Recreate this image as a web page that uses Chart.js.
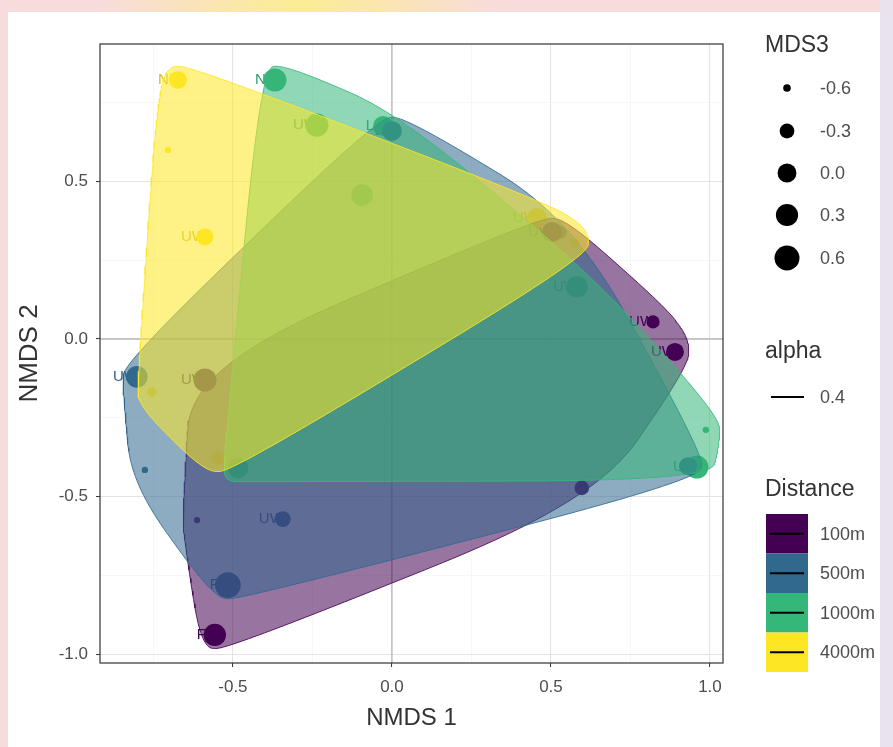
<!DOCTYPE html>
<html>
<head>
<meta charset="utf-8">
<script src="https://cdn.jsdelivr.net/npm/chart.js@4.4.1/dist/chart.umd.min.js"></script>
<style>
  html, body { margin: 0; padding: 0; background: #fff; }
  canvas { display: block; }
</style>
</head>
<body>
<canvas id="nmds" width="893" height="747"></canvas>
<script>
// Distance classes and their viridis colours
const distances = ['100m', '500m', '1000m', '4000m'];
const colours = ['#440154', '#31688E', '#35B779', '#FDE725'];
const labelColours = ['#440154', '#2c5c80', '#2a9d68', '#d6bd14'];

// NMDS site scores, one set of arrays per distance class
const nmds1_100m = [-0.588, 0.503, 0.821, 0.890, 0.597, -0.613, -0.557];
const nmds2_100m = [-0.130, 0.339, 0.054, -0.041, -0.472, -0.574, -0.938];
const mds3_100m  = [0.00, -0.20, -0.50, -0.30, -0.45, -0.64, -0.05];
const site_100m  = ['UW', 'UW', 'UW', 'UW', '', '', 'FE'];

const nmds1_500m = [-0.802, -0.777, -0.516, -0.343, 0.000, 0.528, 0.931];
const nmds2_500m = [-0.120, -0.415, -0.780, -0.571, 0.659, 0.339, -0.403];
const mds3_500m  = [-0.10, -0.64, 0.20, -0.40, -0.20, -0.50, -0.30];
const site_500m  = ['UW', '', 'FE', 'UW', 'LE', '', ''];

const nmds1_1000m = [-0.368, -0.236, -0.094, -0.028, 0.582, 0.987, 0.959, -0.484];
const nmds2_1000m = [0.821, 0.678, 0.456, 0.675, 0.165, -0.288, -0.406, -0.409];
const mds3_1000m  = [0.00, 0.00, -0.10, -0.20, -0.10, -0.64, 0.00, -0.15];
const site_1000m  = ['NE', 'UW', '', 'LE', 'UW', '', 'UW', ''];

const nmds1_4000m = [-0.673, -0.704, -0.588, 0.456, 0.575, -0.755, -0.547];
const nmds2_4000m = [0.821, 0.599, 0.323, 0.384, 0.304, -0.168, -0.377];
const mds3_4000m  = [-0.30, -0.64, -0.35, -0.20, -0.60, -0.60, -0.50];
const site_4000m  = ['NE', '', 'UW', 'UW', '', '', ''];

// Axis ticks
const xMajor = [-0.5, 0.0, 0.5, 1.0];
const xMinor = [-0.75, -0.25, 0.25, 0.75];
const yMajor = [-1.0, -0.5, 0.0, 0.5];
const yMinor = [-0.75, -0.25, 0.25, 0.75];
const X_RANGE = [-0.918, 1.041];
const Y_RANGE = [-1.027, 0.935];

// Size legend breaks and the alpha key
const sizeBreaks = [-0.6, -0.3, 0.0, 0.3, 0.6];
const alphaKey = ['0.4'];

const groups = [
  { x: nmds1_100m, y: nmds2_100m, s: mds3_100m, lab: site_100m },
  { x: nmds1_500m, y: nmds2_500m, s: mds3_500m, lab: site_500m },
  { x: nmds1_1000m, y: nmds2_1000m, s: mds3_1000m, lab: site_1000m },
  { x: nmds1_4000m, y: nmds2_4000m, s: mds3_4000m, lab: site_4000m }
];

// area-type size scale for MDS3
const S_MIN = -0.65, S_MAX = 0.65;
function radiusFor(v) {
  const f = Math.max(0, Math.min(1, (v - S_MIN) / (S_MAX - S_MIN)));
  return 0.5 * (4 + 27 * Math.sqrt(f));
}

function rgba(hex, a) {
  const n = parseInt(hex.slice(1), 16);
  return `rgba(${(n >> 16) & 255},${(n >> 8) & 255},${n & 255},${a})`;
}

// convex hull (monotone chain)
function convexHull(pts) {
  const p = pts.slice().sort((a, b) => a.x - b.x || a.y - b.y);
  const cross = (o, a, b) => (a.x - o.x) * (b.y - o.y) - (a.y - o.y) * (b.x - o.x);
  const lower = [], upper = [];
  for (const q of p) {
    while (lower.length >= 2 && cross(lower[lower.length - 2], lower[lower.length - 1], q) <= 0) lower.pop();
    lower.push(q);
  }
  for (let i = p.length - 1; i >= 0; i--) {
    const q = p[i];
    while (upper.length >= 2 && cross(upper[upper.length - 2], upper[upper.length - 1], q) <= 0) upper.pop();
    upper.push(q);
  }
  upper.pop(); lower.pop();
  return lower.concat(upper);
}

// closed X-spline (Blanc & Schlick), positive shape
function fBlend(num, den) {
  const p = 2 * den * den, u = num / den, u2 = u * u;
  return u * u2 * (10 - p + (2 * p - 15) * u + (6 - p) * u2);
}
function xsplineClosed(ctrl, s, steps) {
  const n = ctrl.length, out = [];
  for (let k = 0; k < n; k++) {
    const p0 = ctrl[(k - 1 + n) % n], p1 = ctrl[k], p2 = ctrl[(k + 1) % n], p3 = ctrl[(k + 2) % n];
    for (let i = 0; i < steps; i++) {
      const t = i / steps;
      const A0 = t < s ? fBlend(t - s, -1 - s) : 0;
      const A1 = fBlend(t - 1 - s, -1 - s);
      const A2 = fBlend(t + s, 1 + s);
      const A3 = t > 1 - s ? fBlend(t - 1 + s, 1 + s) : 0;
      const w = A0 + A1 + A2 + A3;
      out.push({
        x: (A0 * p0.x + A1 * p1.x + A2 * p2.x + A3 * p3.x) / w,
        y: (A0 * p0.y + A1 * p1.y + A2 * p2.y + A3 * p3.y) / w
      });
    }
  }
  out.push({ x: out[0].x, y: out[0].y });
  return out;
}

// encircling outline: box-expanded hull smoothed with an X-spline
const EXPAND = 0.022;
function encircle(g) {
  const ex = EXPAND * (X_RANGE[1] - X_RANGE[0]);
  const ey = EXPAND * (Y_RANGE[1] - Y_RANGE[0]);
  const pts = [];
  g.x.forEach((x, i) => {
    const y = g.y[i];
    pts.push({ x: x - ex, y: y - ey }, { x: x + ex, y: y - ey },
             { x: x + ex, y: y + ey }, { x: x - ex, y: y + ey });
  });
  return xsplineClosed(convexHull(pts), 0.5, 24);
}

const datasets = [];
groups.forEach((g, gi) => {
  datasets.push({
    label: distances[gi] + ' hull',
    data: encircle(g),
    showLine: true,
    fill: 'shape',
    tension: 0,
    pointRadius: 0,
    pointHoverRadius: 0,
    borderWidth: 1,
    borderColor: rgba(colours[gi], 0.85),
    backgroundColor: rgba(colours[gi], 0.55),
    order: 3 - gi
  });
});
groups.forEach((g, gi) => {
  datasets.push({
    label: distances[gi],
    data: g.x.map((x, i) => ({ x, y: g.y[i] })),
    pointRadius: g.s.map(radiusFor),
    pointHoverRadius: g.s.map(radiusFor),
    pointBorderWidth: 0,
    backgroundColor: colours[gi],
    borderColor: colours[gi],
    showLine: false,
    order: 10 + gi
  });
});

const FONT = '"Liberation Sans", Arial, sans-serif';

const pagePlugin = {
  id: 'page',
  beforeDraw(chart) {
    const c = chart.ctx;
    c.save();
    c.fillStyle = '#f7dcdc';
    c.fillRect(0, 0, chart.width, chart.height);
    const g = c.createRadialGradient(300, 0, 10, 300, 0, 200);
    g.addColorStop(0, 'rgba(252,236,150,1)');
    g.addColorStop(1, 'rgba(252,236,150,0)');
    c.fillStyle = g;
    c.fillRect(80, 0, 460, 12);
    c.fillStyle = '#e9e3ef';
    c.fillRect(880, 0, 13, chart.height);
    c.fillStyle = '#ffffff';
    c.fillRect(8, 12, 872, chart.height - 12);
    c.restore();
  }
};

const refLinePlugin = {
  id: 'refLines',
  beforeDatasetsDraw(chart) {
    const { ctx: c, chartArea: a, scales: { x, y } } = chart;
    c.save();
    c.strokeStyle = '#b8b8b8';
    c.lineWidth = 1.3;
    const x0 = x.getPixelForValue(0), y0 = y.getPixelForValue(0);
    c.beginPath();
    c.moveTo(x0, a.top); c.lineTo(x0, a.bottom);
    c.moveTo(a.left, y0); c.lineTo(a.right, y0);
    c.stroke();
    // site labels, drawn beneath the points and outlines
    c.font = `15px ${FONT}`;
    c.textAlign = 'right';
    c.textBaseline = 'middle';
    groups.forEach((g, gi) => {
      c.fillStyle = labelColours[gi];
      g.x.forEach((xv, i) => {
        if (!g.lab[i]) return;
        c.fillText(g.lab[i], x.getPixelForValue(xv) + 1, y.getPixelForValue(g.y[i]));
      });
    });
    c.restore();
  },
  afterDatasetsDraw(chart) {
    const { ctx: c, chartArea: a } = chart;
    c.save();
    c.strokeStyle = '#333333';
    c.lineWidth = 1.2;
    c.strokeRect(a.left, a.top, a.right - a.left, a.bottom - a.top);
    c.restore();
  }
};

const legendPlugin = {
  id: 'sideLegend',
  afterDraw(chart) {
    const c = chart.ctx;
    c.save();
    c.textBaseline = 'middle';
    c.textAlign = 'left';
    const title = (t, y) => {
      c.fillStyle = '#333';
      c.font = `23px ${FONT}`;
      c.fillText(t, 765, y);
    };
    const label = (t, y) => {
      c.fillStyle = '#4d4d4d';
      c.font = `18px ${FONT}`;
      c.fillText(t, 820, y);
    };
    title('MDS3', 46);
    const sizeY = [88, 131, 173, 215, 258];
    sizeBreaks.forEach((v, i) => {
      c.fillStyle = '#000';
      c.beginPath();
      c.arc(787, sizeY[i], radiusFor(v) * 0.82, 0, Math.PI * 2);
      c.fill();
      label(v.toFixed(1), sizeY[i] + 1);
    });
    title('alpha', 352);
    c.strokeStyle = '#000';
    c.lineWidth = 2;
    c.beginPath(); c.moveTo(771, 397); c.lineTo(804, 397); c.stroke();
    label(alphaKey[0], 398);
    title('Distance', 490);
    distances.forEach((d, i) => {
      const top = 514 + i * 39.5;
      c.fillStyle = colours[i];
      c.fillRect(766, top, 42, 39.5);
      c.strokeStyle = '#000';
      c.lineWidth = 2;
      c.beginPath(); c.moveTo(770, top + 19.75); c.lineTo(804, top + 19.75); c.stroke();
      label(d, top + 21);
    });
    c.restore();
  }
};

function isMajor(list, v) { return list.some(m => Math.abs(m - v) < 1e-9); }

function axis(major, minor, range, title) {
  const horiz = title === 'NMDS 1';
  return {
    type: 'linear',
    min: range[0],
    max: range[1],
    afterBuildTicks(scale) {
      scale.ticks = major.concat(minor).sort((a, b) => a - b).map(v => ({ value: v }));
    },
    ticks: {
      autoSkip: false,
      maxRotation: 0,
      color: '#4d4d4d',
      font: { family: FONT, size: 17 },
      padding: horiz ? 10 : 8,
      callback: v => (isMajor(major, v) ? v.toFixed(1) : '')
    },
    grid: {
      drawTicks: true,
      tickLength: 4,
      color: ctx => (isMajor(major, ctx.tick.value) ? '#e4e4e4' : '#f2f2f2'),
      lineWidth: ctx => (isMajor(major, ctx.tick.value) ? 1.1 : 0.6),
      tickColor: ctx => (isMajor(major, ctx.tick.value) ? '#333' : 'rgba(0,0,0,0)'),
      tickWidth: 1
    },
    border: { display: false },
    title: {
      display: true,
      text: title,
      color: '#333',
      font: { family: FONT, size: horiz ? 24 : 26 },
      padding: horiz ? { top: 0, bottom: 14 } : { top: 14, bottom: 0 }
    }
  };
}

const xAxis = axis(xMajor, xMinor, X_RANGE, 'NMDS 1');
xAxis.afterFit = s => { s.height = 84; };
const yAxis = axis(yMajor, yMinor, Y_RANGE, 'NMDS 2');
yAxis.afterFit = s => { s.width = 100; };

new Chart(document.getElementById('nmds'), {
  type: 'scatter',
  data: { datasets },
  options: {
    responsive: false,
    animation: false,
    layout: { padding: { top: 44, right: 170, bottom: 0, left: 0 } },
    plugins: { legend: { display: false }, tooltip: { enabled: false } },
    scales: { x: xAxis, y: yAxis }
  },
  plugins: [pagePlugin, refLinePlugin, legendPlugin]
});
</script>
</body>
</html>
